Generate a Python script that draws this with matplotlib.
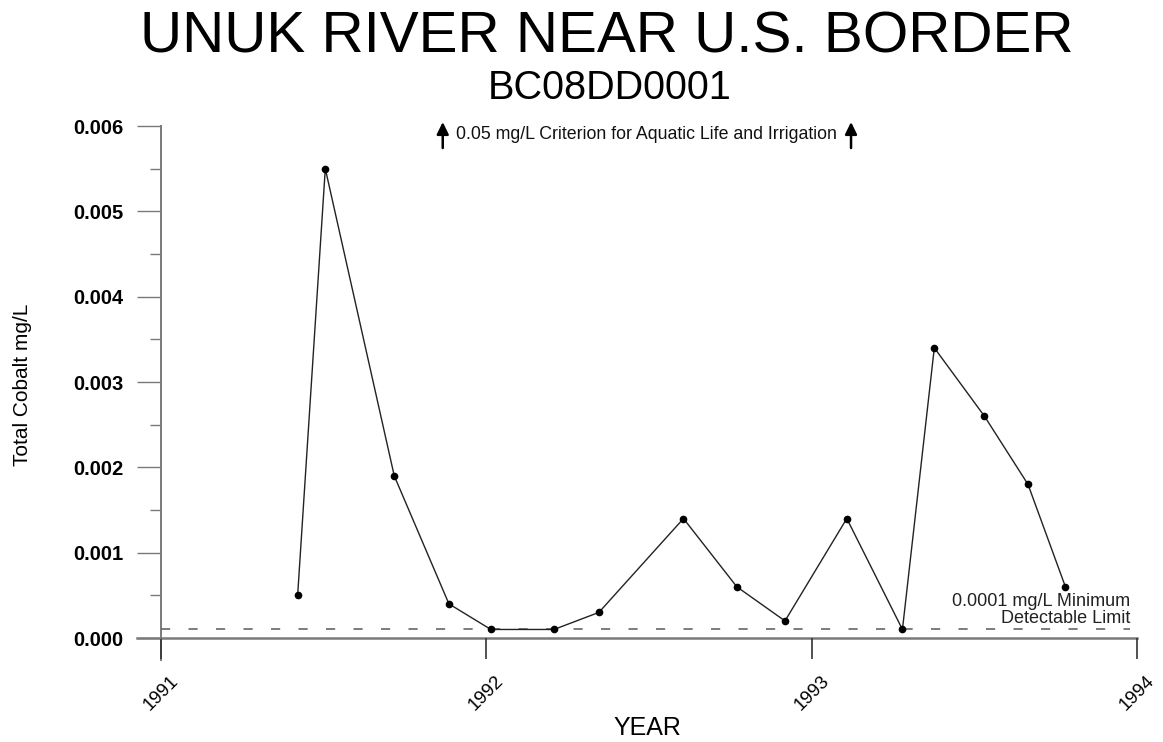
import matplotlib
matplotlib.use("Agg")
import matplotlib.pyplot as plt
from matplotlib.ticker import MultipleLocator

plt.rcParams["font.family"] = ["Liberation Sans", "DejaVu Sans"]

# sample dates (decimal year) and total cobalt (mg/L)
years = [1991.420, 1991.505, 1991.717, 1991.885, 1992.014, 1992.208, 1992.346,
         1992.606, 1992.770, 1992.918, 1993.108, 1993.279, 1993.377, 1993.531,
         1993.665, 1993.780]
cobalt = [0.0005, 0.0055, 0.0019, 0.0004, 0.0001, 0.0001, 0.0003,
          0.0014, 0.0006, 0.0002, 0.0014, 0.0001, 0.0034, 0.0026,
          0.0018, 0.0006]

detect_limit = 0.0001
year_ticks = [1991, 1992, 1993, 1994]
y_ticks = [0.000, 0.001, 0.002, 0.003, 0.004, 0.005, 0.006]

axis_grey = "#7a7a7a"

fig = plt.figure(figsize=(11.63, 7.42), dpi=100)
ax = fig.add_axes([161 / 1163, 104 / 742, 976 / 1163, 512 / 742])

# data
ax.plot(years, cobalt, color="#222222", linewidth=1.0, marker="o",
        markersize=4.5, markerfacecolor="black", markeredgecolor="black",
        clip_on=False, zorder=3)

# minimum detectable limit
ax.plot([1991, 1993.98], [detect_limit, detect_limit], color="#666666",
        linewidth=1.2, dashes=(5.5, 11), zorder=2)
ax.text(1993.98, 0.00033, "0.0001 mg/L Minimum\nDetectable Limit",
        ha="right", va="center", fontsize=13, linespacing=0.95,
        color="#222222")

# criterion note with arrows
ax.text(1992.491, 0.005895, "0.05 mg/L Criterion for Aquatic Life and Irrigation",
        ha="center", va="center", fontsize=12.8, color="#111111")
for arrow_x in [1991.866, 1993.121]:
    ax.annotate("", xy=(arrow_x, 0.006047), xytext=(arrow_x, 0.005742),
                arrowprops=dict(arrowstyle="-|>,head_length=0.45,head_width=0.22",
                                color="black", lw=1.8, mutation_scale=16,
                                shrinkA=0, shrinkB=0),
                annotation_clip=False)

ax.set_xlim(1991, 1994)
ax.set_ylim(0, 0.006)

for s in ax.spines.values():
    s.set_visible(False)

# axis lines drawn by hand so they overhang like the original
ax.plot([-0.025, 1.0], [0, 0], transform=ax.transAxes, color=axis_grey,
        linewidth=1.8, clip_on=False, zorder=1)
ax.plot([0, 0], [-0.043, 1.0], transform=ax.transAxes, color=axis_grey,
        linewidth=1.4, clip_on=False, zorder=1)

ax.set_xticks(year_ticks)
ax.set_xticklabels([str(y) for y in year_ticks], rotation=45,
                   ha="center", va="top", fontsize=13.5)
ax.tick_params(axis="x", direction="out", length=15, width=1.2,
               color="#333333", pad=10)

ax.set_yticks(y_ticks)
ax.set_yticklabels([f"{v:.3f}" for v in y_ticks], fontsize=14.5,
                   fontweight="bold")
ax.yaxis.set_minor_locator(MultipleLocator(0.0005))
ax.tick_params(axis="y", which="major", direction="out", length=17,
               width=1.0, color=axis_grey, pad=10)
ax.tick_params(axis="y", which="minor", direction="out", length=8,
               width=1.0, color=axis_grey)

fig.text(0.522, 0.949, "UNUK RIVER NEAR U.S. BORDER", ha="center",
         va="center", fontsize=42)
fig.text(0.524, 0.881, "BC08DD0001", ha="center", va="center", fontsize=28.5)
fig.text(0.019, 0.481, "Total Cobalt mg/L", rotation=90, ha="center",
         va="center", fontsize=15)
fig.text(0.557, 0.019, "YEAR", ha="center", va="center", fontsize=18)

fig.savefig("out.png", dpi=100)
